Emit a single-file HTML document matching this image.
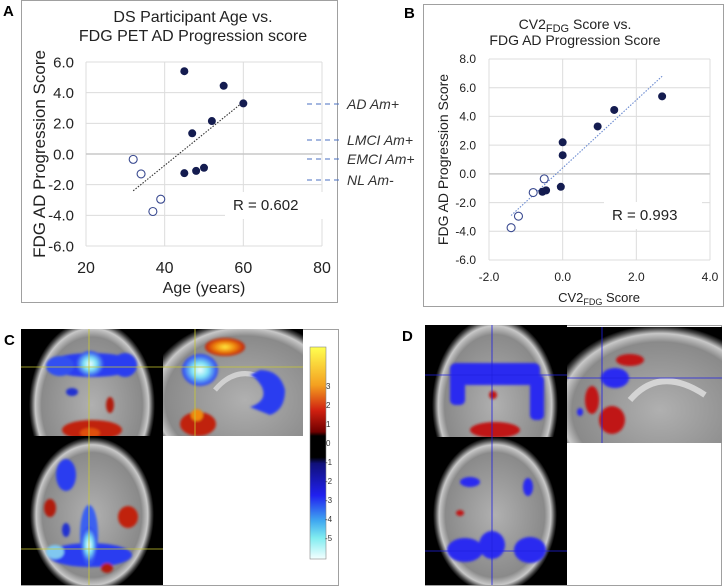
<!DOCTYPE html>
<html><head><meta charset="utf-8"><style>
html,body{margin:0;padding:0;background:#fff}
svg{display:block;font-family:"Liberation Sans",Arial,sans-serif}
</style></head><body>
<svg id="fig" width="726" height="586" viewBox="0 0 726 586">
<defs>
<radialGradient id="head" cx="50%" cy="50%" r="50%">
<stop offset="0" stop-color="#b0b0b0"/><stop offset="0.8" stop-color="#8a8a8a"/><stop offset="0.9" stop-color="#c8c8c8"/><stop offset="0.96" stop-color="#444"/><stop offset="1" stop-color="#000"/></radialGradient>
<radialGradient id="cy" cx="50%" cy="50%" r="50%"><stop offset="0" stop-color="#f4ffff"/><stop offset="0.45" stop-color="#7fe4f4"/><stop offset="1" stop-color="#2a3cf0"/></radialGradient>
<radialGradient id="yl" cx="50%" cy="50%" r="50%"><stop offset="0" stop-color="#ffee40"/><stop offset="0.5" stop-color="#f08a10"/><stop offset="1" stop-color="#c0200a"/></radialGradient>
<linearGradient id="cbar" x1="0" y1="0" x2="0" y2="1">
<stop offset="0" stop-color="#ffff50"/><stop offset="0.18" stop-color="#f4a020"/><stop offset="0.3" stop-color="#d02010"/><stop offset="0.4" stop-color="#700000"/><stop offset="0.42" stop-color="#000"/><stop offset="0.52" stop-color="#000"/><stop offset="0.55" stop-color="#10107a"/><stop offset="0.7" stop-color="#2020f0"/><stop offset="0.82" stop-color="#40a8f0"/><stop offset="0.9" stop-color="#80ecf0"/><stop offset="1" stop-color="#f4ffff"/></linearGradient>
<filter id="bl" x="-20%" y="-20%" width="140%" height="140%"><feGaussianBlur stdDeviation="1.3"/></filter>
<clipPath id="c1"><rect x="21" y="329" width="142" height="107"/></clipPath>
<clipPath id="c2"><rect x="21" y="436" width="142" height="149"/></clipPath>
<clipPath id="c3"><rect x="163" y="329" width="140" height="107"/></clipPath>
<clipPath id="d1"><rect x="425" y="325" width="142" height="112"/></clipPath>
<clipPath id="d2"><rect x="425" y="437" width="142" height="148"/></clipPath>
<clipPath id="d3"><rect x="567" y="327" width="155" height="116"/></clipPath>
</defs>

<g>
<rect x="21.5" y="0.5" width="316" height="302" fill="#fff" stroke="#a0a0a0"/>
<text x="3" y="16" font-size="15" font-weight="bold">A</text>
<text x="193" y="22" font-size="16" text-anchor="middle" fill="#222">DS Participant Age vs.</text>
<text x="193" y="41" font-size="16" text-anchor="middle" fill="#222">FDG PET AD Progression score</text>
<g id="gA"></g>
</g>

<g font-style="italic" font-size="14" fill="#333">
<line x1="307" y1="104" x2="342" y2="104" stroke="#4a6fc0" stroke-dasharray="5,4"/>
<line x1="307" y1="140" x2="342" y2="140" stroke="#4a6fc0" stroke-dasharray="5,4"/>
<line x1="307" y1="159" x2="342" y2="159" stroke="#4a6fc0" stroke-dasharray="5,4"/>
<line x1="307" y1="180" x2="342" y2="180" stroke="#4a6fc0" stroke-dasharray="5,4"/>
<text x="347" y="109">AD Am+</text>
<text x="347" y="145">LMCI Am+</text>
<text x="347" y="164">EMCI Am+</text>
<text x="347" y="185">NL Am-</text>
</g>

<g>
<rect x="423.5" y="4.5" width="300" height="302" fill="none" stroke="#a0a0a0"/>
<text x="404" y="18" font-size="15" font-weight="bold">B</text>
<text x="575" y="29" font-size="14" text-anchor="middle" fill="#222">CV2<tspan font-size="11" dy="3">FDG</tspan><tspan dy="-3"> Score vs.</tspan></text>
<text x="575" y="45" font-size="14" text-anchor="middle" fill="#222">FDG AD Progression Score</text>
<g id="gB"></g>
</g>

<g>
<rect x="21.5" y="329.5" width="317" height="256" fill="#fff" stroke="#a0a0a0"/>
<text x="4" y="345" font-size="15" font-weight="bold">C</text>
<g clip-path="url(#c1)">
<rect x="21" y="329" width="142" height="107" fill="#000"/>
<ellipse cx="92" cy="405" rx="63" ry="85" fill="url(#head)"/>
<g filter="url(#bl)">
<ellipse cx="92" cy="365" rx="45" ry="12" fill="#2a3ef0"/>
<ellipse cx="60" cy="366" rx="14" ry="10" fill="#3050f0"/>
<ellipse cx="125" cy="365" rx="12" ry="12" fill="#2a3ef0"/>
<ellipse cx="90" cy="364" rx="14" ry="13" fill="url(#cy)"/>
<ellipse cx="92" cy="430" rx="30" ry="10" fill="#c02010"/>
<ellipse cx="110" cy="405" rx="4" ry="8" fill="#b01a10"/>
<ellipse cx="72" cy="392" rx="6" ry="4" fill="#2030d0"/>
<ellipse cx="90" cy="433" rx="10" ry="5" fill="#e05010"/>
</g>
<line x1="89" y1="329" x2="89" y2="436" stroke="#c8c830" stroke-width="0.8"/>
<line x1="21" y1="367" x2="163" y2="367" stroke="#c8c830" stroke-width="0.8"/>
</g>
<g clip-path="url(#c2)">
<rect x="21" y="436" width="142" height="149" fill="#000"/>
<ellipse cx="92" cy="515" rx="62" ry="78" fill="url(#head)"/>
<g filter="url(#bl)">
<ellipse cx="66" cy="475" rx="10" ry="16" fill="#2a3ef0"/>
<ellipse cx="90" cy="555" rx="42" ry="12" fill="#2a3ef0"/>
<ellipse cx="89" cy="535" rx="9" ry="30" fill="#3a60f0"/>
<ellipse cx="89" cy="545" rx="8" ry="18" fill="url(#cy)"/>
<ellipse cx="55" cy="552" rx="9" ry="7" fill="#80c8f0"/>
<ellipse cx="128" cy="517" rx="10" ry="11" fill="#c02010"/>
<ellipse cx="50" cy="508" rx="6" ry="9" fill="#b01a10"/>
<ellipse cx="107" cy="568" rx="6" ry="5" fill="#b01a10"/>
<ellipse cx="66" cy="530" rx="4" ry="7" fill="#2030d0"/>
</g>
<line x1="89" y1="436" x2="89" y2="585" stroke="#c8c830" stroke-width="0.8"/>
<line x1="21" y1="549" x2="163" y2="549" stroke="#c8c830" stroke-width="0.8"/>
</g>
<g clip-path="url(#c3)">
<rect x="163" y="329" width="140" height="107" fill="#000"/>
<ellipse cx="245" cy="400" rx="100" ry="80" fill="url(#head)"/>
<path d="M215 390 q25 -30 60 -5" stroke="#d0d0d0" stroke-width="5" fill="none"/>
<g filter="url(#bl)">
<ellipse cx="200" cy="370" rx="18" ry="16" fill="url(#cy)"/>
<ellipse cx="225" cy="347" rx="20" ry="9" fill="url(#yl)"/>
<path d="M260 370 q20 0 25 20 q0 20 -15 25 l-20 -8 q18 -6 12 -20 q-6 -10 -12 -12z" fill="#2a3ef0"/>
<ellipse cx="198" cy="424" rx="18" ry="12" fill="#c02010"/>
<ellipse cx="197" cy="415" rx="6" ry="6" fill="#f08a10"/>
</g>
<line x1="195" y1="329" x2="195" y2="436" stroke="#c8c830" stroke-width="0.8"/>
<line x1="163" y1="367" x2="303" y2="367" stroke="#c8c830" stroke-width="0.8"/>
</g>
<rect x="310" y="347" width="16" height="212" fill="url(#cbar)" stroke="#888" stroke-width="0.6"/>
<g font-size="8" fill="#333">
<text x="326" y="389">3</text><text x="326" y="408">2</text><text x="326" y="427">1</text><text x="326" y="446">0</text>
<text x="325" y="465">-1</text><text x="325" y="484">-2</text><text x="325" y="503">-3</text><text x="325" y="522">-4</text><text x="325" y="541">-5</text>
</g>
</g>

<g>
<rect x="425.5" y="325.5" width="296" height="260" fill="#fff" stroke="#a0a0a0"/>
<text x="402" y="341" font-size="15" font-weight="bold">D</text>
<g clip-path="url(#d1)">
<rect x="425" y="325" width="142" height="112" fill="#000"/>
<ellipse cx="495" cy="405" rx="63" ry="88" fill="url(#head)"/>
<g filter="url(#bl)">
<rect x="450" y="363" width="90" height="22" rx="6" fill="#2a2af0"/>
<rect x="450" y="375" width="15" height="30" rx="5" fill="#2a2af0"/>
<rect x="530" y="375" width="14" height="45" rx="5" fill="#2a2af0"/>
<ellipse cx="495" cy="430" rx="25" ry="8" fill="#c01818"/>
<ellipse cx="493" cy="395" rx="4" ry="4" fill="#c01818"/>
</g>
<line x1="492" y1="325" x2="492" y2="437" stroke="#2020e0" stroke-width="0.8"/>
<line x1="425" y1="375" x2="567" y2="375" stroke="#2020e0" stroke-width="0.8"/>
</g>
<g clip-path="url(#d2)">
<rect x="425" y="437" width="142" height="148" fill="#000"/>
<ellipse cx="495" cy="515" rx="62" ry="78" fill="url(#head)"/>
<g filter="url(#bl)">
<ellipse cx="465" cy="550" rx="18" ry="12" fill="#2a2af0"/>
<ellipse cx="530" cy="550" rx="16" ry="13" fill="#2a2af0"/>
<ellipse cx="492" cy="545" rx="13" ry="14" fill="#2a2af0"/>
<ellipse cx="470" cy="482" rx="10" ry="5" fill="#2a2af0"/>
<ellipse cx="528" cy="487" rx="5" ry="9" fill="#2a2af0"/>
<ellipse cx="460" cy="513" rx="4" ry="3" fill="#c01818"/>
</g>
<line x1="492" y1="437" x2="492" y2="585" stroke="#2020e0" stroke-width="0.8"/>
<line x1="425" y1="551" x2="567" y2="551" stroke="#2020e0" stroke-width="0.8"/>
</g>
<g clip-path="url(#d3)">
<rect x="567" y="327" width="155" height="116" fill="#000"/>
<ellipse cx="660" cy="410" rx="110" ry="85" fill="url(#head)"/>
<path d="M630 400 q30 -35 75 -5" stroke="#d4d4d4" stroke-width="6" fill="none"/>
<g filter="url(#bl)">
<ellipse cx="615" cy="378" rx="14" ry="10" fill="#2a2af0"/>
<ellipse cx="630" cy="360" rx="14" ry="6" fill="#c01818"/>
<ellipse cx="592" cy="400" rx="7" ry="14" fill="#c01818"/>
<ellipse cx="612" cy="420" rx="13" ry="14" fill="#c01818"/>
<ellipse cx="580" cy="412" rx="3" ry="4" fill="#2a2af0"/>
</g>
<line x1="602" y1="327" x2="602" y2="443" stroke="#2020e0" stroke-width="0.8"/>
<line x1="567" y1="378" x2="722" y2="378" stroke="#2020e0" stroke-width="0.8"/>
</g>
</g>
</svg>
<script>
// ---- Chart A data ----
const ageFilledX = [45, 55, 60, 52, 47, 45, 48, 50];
const ageFilledY = [5.4, 4.45, 3.3, 2.15, 1.35, -1.25, -1.1, -0.9];
const ageOpenX = [32, 34, 39, 37];
const ageOpenY = [-0.35, -1.3, -2.95, -3.75];
const ageTrendX = [32, 60];
const ageTrendY = [-2.4, 3.4];
const ageXTicks = [20, 40, 60, 80];
const ageYTicks = [-6, -4, -2, 0, 2, 4, 6];
// ---- Chart B data ----
const cvFilledX = [2.7, 1.4, 0.95, 0, 0, -0.05, -0.55, -0.45];
const cvFilledY = [5.4, 4.45, 3.3, 2.2, 1.3, -0.9, -1.25, -1.15];
const cvOpenX = [-0.5, -0.8, -1.2, -1.4];
const cvOpenY = [-0.35, -1.3, -2.95, -3.75];
const cvTrendX = [-1.4, 2.7];
const cvTrendY = [-2.9, 6.8];
const cvXTicks = [-2, 0, 2, 4];
const cvYTicks = [-6, -4, -2, 0, 2, 4, 6, 8];

const NS = "http://www.w3.org/2000/svg";
function mk(parent, tag, attrs) {
  const e = document.createElementNS(NS, tag);
  for (const k in attrs) e.setAttribute(k, attrs[k]);
  parent.appendChild(e);
  return e;
}
function chart(g, o) {
  const sx = v => o.x0 + (v - o.xmin) / (o.xmax - o.xmin) * (o.x1 - o.x0);
  const sy = v => o.y1 - (v - o.ymin) / (o.ymax - o.ymin) * (o.y1 - o.y0);
  o.xt.forEach(t => {
    const l = mk(g, "line", {x1: sx(t), x2: sx(t), y1: o.y0, y2: o.y1, stroke: "#dcdcdc", "stroke-width": 1});
    
    
    const tx = mk(g, "text", {x: sx(t), y: o.xly, "font-size": o.xfs, "text-anchor": "middle", fill: "#222"});
    tx.textContent = o.xfmt(t);
    
    
  });
  o.yt.forEach(t => {
    const l = mk(g, "line", {x1: o.x0, x2: o.x1, y1: sy(t), y2: sy(t), stroke: t === 0 ? "#c8c8c8" : "#dcdcdc", "stroke-width": t === 0 ? 1.5 : 1});
    
    
    const tx = mk(g, "text", {x: o.ylx, y: sy(t) + o.yfs * 0.35, "font-size": o.yfs, "text-anchor": "end", fill: "#222"});
    tx.textContent = t.toFixed(1);
    
    
  });
  const tl = mk(g, "line", {x1: sx(o.tx[0]), y1: sy(o.ty[0]), x2: sx(o.tx[1]), y2: sy(o.ty[1]), stroke: o.tc, "stroke-width": 1.1, "stroke-dasharray": "1.5,1.5"});
  
  
  const rb = mk(g, "rect", {x: o.rx - 8, y: o.ry - 18, width: 98, height: 27, fill: "#fff"});
  
  
  const rt = mk(g, "text", {x: o.rx, y: o.ry, "font-size": 15, fill: "#222"});
  rt.textContent = o.rtext;
  
  
  o.fx.forEach((v, i) => {
    const c = mk(g, "circle", {cx: sx(v), cy: sy(o.fy[i]), r: 4, fill: "#141c50"});
    
    
  });
  o.ox.forEach((v, i) => {
    const c = mk(g, "circle", {cx: sx(v), cy: sy(o.oy[i]), r: 4, fill: "#fff", stroke: "#3a4a90", "stroke-width": 1.1});
    
    
  });
  const yt = mk(g, "text", {x: 0, y: 0, "font-size": o.ytfs, "text-anchor": "middle", fill: "#222", transform: `translate(${o.ytx},${(o.y0 + o.y1) / 2}) rotate(-90)`});
  yt.textContent = "FDG AD Progression Score";
  
  
}
chart(document.getElementById("gA"), {
  x0: 86, x1: 322, y0: 62, y1: 246, xmin: 20, xmax: 80, ymin: -6, ymax: 6,
  xt: ageXTicks, yt: ageYTicks, xly: 273, xfs: 16, ylx: 74, yfs: 15, xfmt: t => String(t),
  tx: ageTrendX, ty: ageTrendY, tc: "#333", rx: 233, ry: 210, rtext: "R = 0.602",
  fx: ageFilledX, fy: ageFilledY, ox: ageOpenX, oy: ageOpenY, ytx: 45, ytfs: 17
});
chart(document.getElementById("gB"), {
  x0: 489, x1: 710, y0: 59, y1: 260, xmin: -2, xmax: 4, ymin: -6, ymax: 8,
  xt: cvXTicks, yt: cvYTicks, xly: 281, xfs: 12, ylx: 476, yfs: 12, xfmt: t => t.toFixed(1),
  tx: cvTrendX, ty: cvTrendY, tc: "#6a8ad0", rx: 612, ry: 220, rtext: "R = 0.993",
  fx: cvFilledX, fy: cvFilledY, ox: cvOpenX, oy: cvOpenY, ytx: 448, ytfs: 14
});
const gB = document.getElementById("gB");
const xtB = mk(gB, "text", {x: 599, y: 302, "font-size": 13, "text-anchor": "middle", fill: "#222"});
xtB.innerHTML = 'CV2<tspan font-size="9" dy="3">FDG</tspan><tspan dy="-3"> Score</tspan>';


const gA = document.getElementById("gA");
const xtA = mk(gA, "text", {x: 204, y: 293, "font-size": 16, "text-anchor": "middle", fill: "#222"});
xtA.textContent = "Age (years)";


</script>
</body></html>
